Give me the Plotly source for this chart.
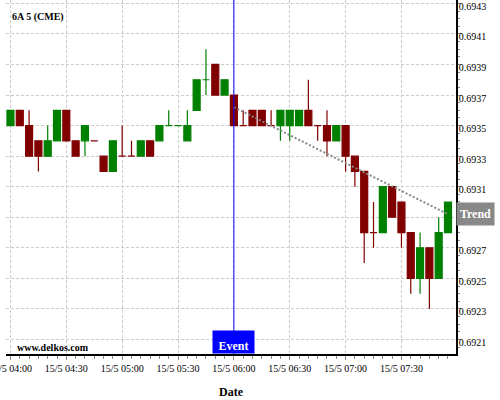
import pandas as pd
import plotly.graph_objects as go

# ---- data ----
times = pd.date_range("2023-05-15 04:00", "2023-05-15 07:55", freq="5min")
opens = [0.6935, 0.6936, 0.6935, 0.6934, 0.6933, 0.6934, 0.6936, 0.6934, 0.6934, 0.6934,
         0.6933, 0.6932, 0.6933, 0.6933, 0.6933, 0.6934, 0.6934, 0.6935, 0.6935, 0.6934,
         0.6936, 0.6938, 0.6939, 0.6937, 0.6937, 0.6935, 0.6936, 0.6936, 0.6935, 0.6935,
         0.6935, 0.6935, 0.6936, 0.6935, 0.6935, 0.6934, 0.6935, 0.6933, 0.6932, 0.6928,
         0.6928, 0.6931, 0.6930, 0.6928, 0.6925, 0.6927, 0.6925, 0.6928]
highs = [0.6936, 0.6936, 0.6936, 0.6934, 0.6935, 0.6936, 0.6936, 0.6934, 0.6935, 0.6934,
         0.6933, 0.6934, 0.6935, 0.6934, 0.6934, 0.6934, 0.6935, 0.6936, 0.6935, 0.6936,
         0.6938, 0.6940, 0.6939, 0.6938, 0.6937, 0.6936, 0.6936, 0.6936, 0.6936, 0.6936,
         0.6936, 0.6936, 0.6938, 0.6935, 0.6936, 0.6935, 0.6935, 0.6933, 0.6932, 0.6930,
         0.6931, 0.6931, 0.6930, 0.6928, 0.6928, 0.6927, 0.6929, 0.6930]
lows = [0.6935, 0.6935, 0.6933, 0.6932, 0.6933, 0.6934, 0.6934, 0.6933, 0.6933, 0.6934,
        0.6932, 0.6932, 0.6933, 0.6933, 0.6933, 0.6933, 0.6934, 0.6935, 0.6935, 0.6934,
        0.6936, 0.6937, 0.6937, 0.6937, 0.6935, 0.6935, 0.6935, 0.6935, 0.6935, 0.6934,
        0.6934, 0.6935, 0.6935, 0.6934, 0.6933, 0.6934, 0.6932, 0.6931, 0.6926, 0.6927,
        0.6928, 0.6929, 0.6927, 0.6924, 0.6924, 0.6923, 0.6925, 0.6928]
closes = [0.6936, 0.6935, 0.6933, 0.6933, 0.6934, 0.6936, 0.6934, 0.6933, 0.6935, 0.6934,
          0.6932, 0.6934, 0.6933, 0.6933, 0.6934, 0.6933, 0.6935, 0.6935, 0.6935, 0.6935,
          0.6938, 0.6938, 0.6937, 0.6938, 0.6935, 0.6935, 0.6935, 0.6935, 0.6935, 0.6936,
          0.6936, 0.6936, 0.6935, 0.6935, 0.6934, 0.6935, 0.6933, 0.6932, 0.6928, 0.6928,
          0.6931, 0.6929, 0.6928, 0.6925, 0.6927, 0.6925, 0.6928, 0.6930]
# colour of each candle: "up" green, "down" dark red (dojis set explicitly)
direction = ["up", "down", "down", "down", "up", "up", "down", "down", "up", "down",
             "down", "up", "down", "down", "up", "down", "up", "up", "up", "up",
             "up", "up", "down", "up", "down", "down", "down", "down", "down", "up",
             "up", "up", "down", "down", "down", "up", "down", "down", "down", "down",
             "up", "down", "down", "down", "up", "down", "up", "up"]

trend_x = ["2023-05-15 06:00", "2023-05-15 07:55"]
trend_y = [0.69362, 0.69292]
event_time = "2023-05-15 06:00"
trend_label_value = 0.69292

GREEN = "#008000"
RED = "#800000"
FONT = "Liberation Serif"

fig = go.Figure()

# trend line (behind candles)
fig.add_trace(go.Scatter(x=trend_x, y=trend_y, mode="lines",
                         line=dict(color="#888888", width=2, dash="2px,2px"),
                         hoverinfo="skip", showlegend=False))

for dirn, col in (("up", GREEN), ("down", RED)):
    idx = [i for i, d in enumerate(direction) if d == dirn]
    fig.add_trace(go.Candlestick(
        x=[times[i] for i in idx],
        open=[opens[i] for i in idx], high=[highs[i] for i in idx],
        low=[lows[i] for i in idx], close=[closes[i] for i in idx],
        increasing=dict(line=dict(color=col, width=1.2), fillcolor=col),
        decreasing=dict(line=dict(color=col, width=1.2), fillcolor=col),
        showlegend=False, hoverinfo="skip"))

# event line
fig.add_shape(type="line", x0=event_time, x1=event_time, xref="x",
              y0=0, y1=1, yref="paper", line=dict(color="blue", width=1))

fig.add_annotation(x=event_time, xref="x", y=0, yref="paper", yanchor="bottom",
                   text="<b>Event</b>", showarrow=False, bgcolor="blue",
                   width=41, height=22, valign="bottom", borderpad=0,
                   font=dict(family=FONT, size=12, color="white"))

fig.add_annotation(x=1, xref="paper", xanchor="left", y=trend_label_value, yref="y",
                   text="<b>Trend</b>", showarrow=False, bgcolor="#888888",
                   width=37, height=22, borderpad=0,
                   font=dict(family=FONT, size=12, color="white"))

fig.add_annotation(x=0.009, xref="paper", xanchor="left", y=0.953, yref="paper",
                   yanchor="middle", text="<b>6A 5 (CME)</b>", showarrow=False,
                   font=dict(family=FONT, size=10, color="black"))

fig.add_annotation(x=0.02, xref="paper", xanchor="left", y=0.017, yref="paper",
                   yanchor="middle", text="<b>www.delkos.com</b>", showarrow=False,
                   font=dict(family=FONT, size=10, color="black"))

fig.update_layout(
    width=500, height=400, autosize=False,
    margin=dict(l=6, r=44, t=0, b=46),
    paper_bgcolor="white", plot_bgcolor="white",
    font=dict(family=FONT, size=10, color="black"),
    boxgap=0.25, boxgroupgap=0,
)
fig.update_xaxes(
    type="date", range=["2023-05-15 03:57:36", "2023-05-15 07:59:18"],
    rangeslider=dict(visible=False), automargin=False, ticklabeloverflow="allow",
    tick0="2023-05-15 04:00", dtick=30 * 60 * 1000, tickformat="%d/%-m %H:%M",
    ticks="outside", ticklen=4, tickcolor="#888888",
    showline=True, linecolor="black", linewidth=1.5,
    showgrid=True, gridcolor="#cccccc", griddash="3px,2px", gridwidth=1,
    minor=dict(dtick=5 * 60 * 1000, ticks="outside", ticklen=3, tickcolor="#888888", showgrid=False),
    title=dict(text="<b>Date</b>", font=dict(family=FONT, size=12)),
    zeroline=False, fixedrange=True,
)
fig.update_yaxes(
    side="right", range=[0.692005, 0.694322], automargin=False, ticklabeloverflow="allow",
    tick0=0.6921, dtick=0.0002, tickformat=".4f",
    ticklabelstandoff=-5, ticklabelshift=3,
    ticks="outside", ticklen=4, tickcolor="#888888",
    showline=True, linecolor="black", linewidth=1.5,
    showgrid=True, gridcolor="#cccccc", griddash="3px,2px", gridwidth=1,
    minor=dict(dtick=0.00005, ticks="outside", ticklen=2, tickcolor="#888888", showgrid=False),
    zeroline=False, fixedrange=True,
)

fig.write_html("out.html", config={"displayModeBar": False},
               post_script="document.body.style.margin='0px';")
